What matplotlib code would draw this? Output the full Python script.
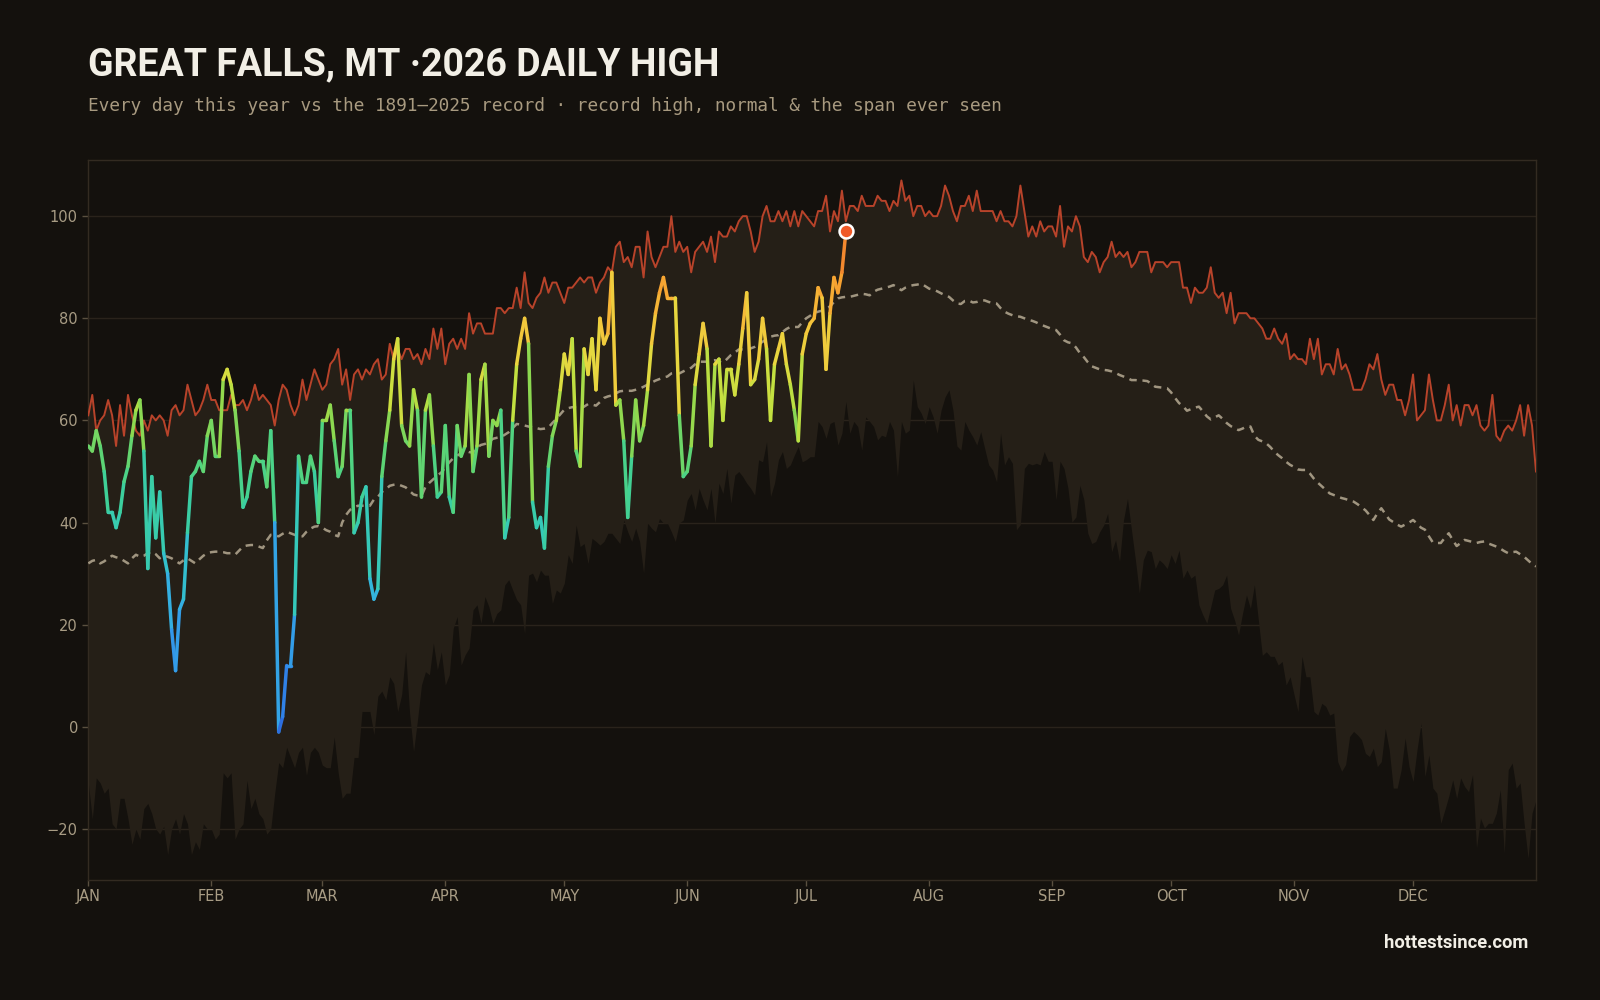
import numpy as np
import matplotlib
matplotlib.use("Agg")
import matplotlib.pyplot as plt
from matplotlib.collections import LineCollection
from matplotlib.colors import LinearSegmentedColormap, Normalize

# ---- data (deg F), day 0 = Jan 1 ----
record_high = [
    61, 65, 58, 60, 61, 64, 61, 55, 63, 57,
    65, 61, 58, 57, 60, 58, 61, 60, 61, 60,
    57, 62, 63, 61, 62, 67, 64, 61, 62, 64,
    67, 64, 64, 62, 62, 62, 65, 63, 63, 64,
    62, 64, 67, 64, 65, 64, 63, 59, 64, 67,
    66, 63, 61, 63, 68, 64, 67, 70, 68, 66,
    67, 71, 72, 74, 67, 70, 64, 69, 70, 68,
    70, 69, 71, 72, 68, 69, 75, 72, 74, 72,
    74, 74, 72, 73, 71, 74, 72, 78, 74, 78,
    71, 75, 76, 74, 76, 74, 81, 77, 79, 79,
    77, 77, 77, 82, 82, 81, 82, 82, 86, 82,
    89, 83, 82, 84, 85, 88, 85, 87, 87, 85,
    83, 86, 86, 87, 88, 87, 88, 88, 85, 87,
    88, 90, 89, 94, 95, 91, 92, 90, 94, 94,
    88, 97, 92, 90, 92, 94, 94, 100, 93, 95,
    93, 94, 89, 93, 94, 95, 93, 96, 91, 97,
    96, 96, 98, 97, 99, 100, 100, 97, 93, 95,
    100, 102, 99, 99, 101, 99, 101, 98, 101, 98,
    101, 100, 99, 98, 101, 101, 104, 97, 101, 99,
    105, 99, 102, 102, 101, 104, 102, 102, 102, 104,
    103, 103, 101, 103, 102, 107, 103, 104, 100, 102,
    102, 100, 101, 100, 100, 102, 106, 104, 101, 99,
    102, 102, 104, 101, 105, 101, 101, 101, 101, 99,
    101, 99, 99, 98, 100, 106, 101, 96, 98, 96,
    99, 97, 98, 98, 96, 102, 94, 98, 97, 100,
    98, 92, 91, 93, 92, 89, 91, 92, 95, 92,
    93, 92, 93, 90, 91, 93, 93, 93, 89, 91,
    91, 91, 90, 91, 91, 91, 86, 86, 83, 86,
    85, 85, 86, 90, 85, 84, 85, 81, 85, 79,
    81, 81, 81, 80, 80, 79, 78, 76, 76, 78,
    76, 75, 77, 72, 73, 72, 72, 71, 76, 72,
    76, 69, 71, 71, 69, 74, 70, 71, 69, 66,
    66, 66, 68, 71, 70, 73, 68, 65, 67, 67,
    64, 64, 61, 64, 69, 60, 61, 62, 69, 64,
    60, 60, 63, 67, 60, 63, 59, 63, 63, 61,
    63, 59, 58, 59, 65, 57, 56, 58, 59, 58,
    60, 63, 57, 63, 59, 50,
]

normal_high = [
    32, 32.5, 32.7, 32, 32.4, 33, 33.5, 33.2, 33, 32.5,
    32, 33, 33.7, 33.3, 33.5, 34, 34.3, 33.8, 33, 33.5,
    33.3, 33, 32.5, 32, 32.6, 33, 32.5, 32, 32.8, 33.5,
    34, 34.2, 34.3, 34.3, 34.2, 34, 34, 33.7, 34.5, 35.3,
    35.5, 35.6, 35.6, 35.3, 35, 36.5, 37.6, 37.5, 37.3, 37.8,
    38.2, 37.9, 37.6, 37.4, 37.3, 38.2, 38.8, 39.2, 39.3, 39,
    38.5, 38.2, 37.6, 37.3, 40, 41.5, 42.5, 43, 43.3, 43.3,
    43.3, 43.3, 44.5, 45, 46, 46.5, 47.2, 47.4, 47.5, 47.2,
    46.9, 46.2, 45.5, 45.3, 45.2, 47, 47.8, 48.5, 49.2, 49.8,
    50.8, 51.8, 52.6, 53.1, 53.6, 54.1, 53.8, 53.7, 54.7, 55.2,
    55.4, 55.8, 56.4, 56.6, 56.7, 57.2, 57.7, 58.5, 59.3, 59.2,
    59, 58.8, 58.6, 58.5, 58.3, 58.4, 58.6, 59.5, 60.3, 61.2,
    62.1, 62.4, 62.6, 62.5, 62.3, 62.7, 63.2, 63.1, 62.9, 63.6,
    64.4, 64.7, 64.9, 65.3, 65.7, 65.8, 65.8, 65.8, 66, 66.2,
    66.6, 67, 67.4, 67.8, 68.1, 68.4, 68.6, 69.2, 69.3, 69.2,
    69.6, 70, 70.3, 71, 71.5, 71.5, 71.5, 71.7, 71.8, 71.5,
    71.3, 72, 72.8, 73.3, 73.9, 73.9, 73.8, 74.1, 74.4, 74.9,
    75.4, 75.9, 76.4, 76.6, 76.7, 77.3, 77.9, 78.3, 78.3, 78.3,
    79.2, 80, 80.5, 81, 81.3, 81.5, 82, 82.3, 83.2, 83.9,
    84.1, 84.2, 84.2, 84.4, 84.6, 84.8, 84.7, 84.5, 85.2, 85.6,
    85.8, 86, 86.2, 86.5, 86, 85.5, 86, 86.3, 86.5, 86.6,
    86.8, 86.3, 85.8, 85.6, 85.3, 84.9, 84.5, 84.2, 83.5, 82.9,
    82.8, 83.4, 83.5, 83.1, 83.2, 83.5, 83.5, 83.2, 83, 82.9,
    82, 81.3, 80.9, 80.6, 80.4, 80.3, 80, 79.7, 79.5, 79.2,
    78.8, 78.5, 78.2, 77.9, 77.7, 76.8, 75.7, 75.3, 75.1, 74.3,
    73.2, 72.4, 71.4, 70.6, 70.3, 70, 69.9, 69.8, 69.6, 69.3,
    68.9, 68.6, 68.3, 67.9, 67.9, 67.8, 67.8, 67.7, 67.2, 66.6,
    66.5, 66.4, 66.3, 65.5, 64.4, 63.4, 62.8, 61.9, 62.2, 62.5,
    62.7, 61.8, 60.8, 60.2, 60.6, 61, 60.3, 59.5, 58.9, 58.5,
    58.1, 58.4, 58.8, 58.8, 57, 56.2, 55.9, 55.5, 54.8, 53.9,
    53.2, 52.6, 51.9, 51.3, 50.9, 50.4, 50.3, 50.3, 49.6, 48.6,
    47.8, 47.1, 46.4, 45.7, 45.4, 45.1, 44.8, 44.6, 44.3, 44.1,
    43.6, 43, 42.4, 41.5, 40.5, 41.8, 42.8, 41.7, 40.6, 40.1,
    39.6, 39.2, 39.6, 40, 40.5, 39.8, 39, 38.6, 37.3, 36.1,
    36, 36, 37, 37.9, 36.6, 35.4, 36, 36.6, 36.4, 36.2,
    36, 36.2, 36.3, 35.9, 35.6, 35.3, 34.9, 34.4, 34, 34.2,
    34.3, 33.8, 33.3, 32.6, 31.9, 31.4,
]

record_low_high = [
    -11, -18, -10, -11, -13, -12, -19, -20, -14, -14,
    -18, -23, -20, -22, -16, -15, -17, -20, -21, -19.5,
    -25, -20, -18, -21, -17, -19, -25, -22.5, -24, -19,
    -20, -20, -22, -21, -9, -10, -9, -22, -20, -19,
    -10.5, -16, -14, -17, -18, -21, -20, -13, -7, -8,
    -4, -6, -8, -5, -4, -9.5, -5, -4, -5, -7.5,
    -8, -8, -2, -9, -14, -13, -13, -6, -6, 3,
    3, 3, -1.5, 6, 7, 5.3, 9.8, 8.5, 3, 6.3,
    14.7, 2.7, -4.8, 1.4, 8.2, 10.8, 10.2, 16.4, 11.2, 14.7,
    8.2, 10.2, 19.3, 21.6, 12.1, 14.1, 15.4, 22.9, 23.9, 20.3,
    25.5, 23.5, 20.3, 22.2, 22.9, 27.8, 28.8, 26.8, 24.9, 23.9,
    18.3, 29.7, 30.1, 28.4, 30.7, 29.7, 29.7, 24.2, 26.8, 26.2,
    28.1, 33.7, 32, 39.5, 35.3, 35.9, 32, 36.9, 36.3, 35.6,
    36.3, 37.9, 37.9, 36.9, 35.9, 40.5, 38.2, 36.3, 38.9, 36.3,
    30.1, 39.9, 38.9, 38.2, 40.8, 39.9, 39.9, 38.2, 36.3, 39.9,
    40.5, 44.4, 45.7, 42.5, 46.7, 44.4, 42.5, 46.7, 39.9, 47.7,
    45.7, 50.6, 43.8, 49.3, 50, 49, 47.7, 46.7, 45.4, 52.3,
    51.9, 55.8, 45.1, 47.7, 52.3, 53.9, 50.6, 51.3, 53.2, 54.9,
    51.9, 52.3, 52.9, 52.9, 59.8, 58.8, 56.5, 59.4, 59.8, 55.2,
    57.5, 63.7, 57.5, 59.8, 58.8, 54.2, 60.7, 59.8, 58.8, 56.2,
    57.1, 56.8, 59.8, 58.1, 49, 59.8, 57.5, 58.1, 67.9, 62.7,
    61.4, 59.4, 62.7, 60.7, 57.5, 62, 64.6, 66, 62, 55,
    54.2, 59.8, 58.1, 56.8, 55.2, 57.8, 54.5, 51.3, 50.3, 48,
    57.5, 51.3, 52.9, 51.6, 38.6, 39.6, 50.6, 51.6, 51.3, 51.6,
    51.3, 53.9, 52, 52, 44.5, 52, 50.6, 46.7, 40.1, 41.1,
    47.3, 44.5, 37.9, 35.9, 36.3, 38.2, 39.5, 41.8, 34.3, 36.6,
    32.4, 40.5, 44.7, 38.6, 32.7, 26.2, 32.7, 34.6, 34.3, 31,
    32.7, 32, 31, 33.7, 32, 34.6, 29.1, 30.7, 29.1, 29.7,
    23.9, 21.9, 20.3, 23.5, 26.8, 27.1, 27.8, 29.7, 23.2, 20.9,
    18, 22.2, 25.8, 23.2, 27.8, 20.9, 14, 14.7, 13.8, 13.8,
    12.1, 12.8, 8.2, 9.8, 6.3, 3, 13.8, 9.8, 9.8, 3,
    2.3, 4.6, 4, 2.3, 2.7, -6.8, -8.7, -7.4, -1.9, -0.9,
    -1.6, -2.5, -5.2, -5.8, -4.2, -7.8, -6.8, -0.3, -4.5, -12,
    -12, -8.4, -2.2, -7.8, -10.7, -4.5, 0.7, -9.7, -5.5, -12,
    -13, -18.9, -16.3, -13.6, -10.4, -14, -10, -11.7, -12.7, -9.4,
    -23.7, -17.9, -19.8, -18.9, -18.9, -16.9, -12.3, -24.7, -8.4, -7.1,
    -12, -11, -18.9, -25.7, -16.9, -14.3,
]

high_2026 = [
    55, 54, 58, 55, 50, 42, 42, 39, 42, 48,
    51, 57, 62, 64, 54, 31, 49, 37, 46, 34,
    30, 19, 11, 23, 25, 38, 49, 50, 52, 50,
    57, 60, 53, 53, 68, 70, 67, 62, 54, 43,
    45, 50, 53, 52, 52, 47, 58, 40, -1, 2,
    12, 12, 22, 53, 48, 48, 53, 50, 40, 60,
    60, 63, 56, 49, 51, 62, 62, 38, 40, 45,
    47, 29, 25, 27, 49, 56, 62, 72, 76, 59,
    56, 55, 66, 62, 45, 62, 65, 55, 45, 46,
    59, 45, 42, 59, 53, 55, 69, 50, 55, 68,
    71, 53, 60, 59, 62, 37, 41, 60, 71, 76,
    80, 75, 44, 39, 41, 35, 51, 57, 60, 66,
    73, 69, 76, 54, 51, 74, 69, 76, 66, 80,
    75, 77, 89, 63, 64, 56, 41, 53, 64, 56,
    59, 66, 75, 81, 85, 88, 84, 84, 84, 61,
    49, 50, 55, 67, 73, 79, 74, 55, 71, 72,
    60, 70, 70, 65, 71, 78, 85, 67, 68, 72,
    80, 74, 60, 71, 74, 77, 71, 67, 62, 56,
    73, 77, 79, 80, 86, 84, 70, 81, 88, 85,
    89, 97,
]

month_starts = [0, 31, 59, 90, 120, 151, 181, 212, 243, 273, 304, 334]
month_labels = ["JAN", "FEB", "MAR", "APR", "MAY", "JUN",
                "JUL", "AUG", "SEP", "OCT", "NOV", "DEC"]
y_ticks = [-20, 0, 20, 40, 60, 80, 100]

# ---- style ----
BG = "#14110d"
BAND = "#251f17"
GRID = "#2a231b"
SPINE = "#332b21"
TICK = "#a89c84"
REC = "#b8432a"
NORMAL = "#a09580"

temp_cmap = LinearSegmentedColormap.from_list(
    "temps",
    [
        (0.00, "#2a5fd8"),
        (0.10, "#2f7de6"),
        (0.19, "#3398ea"),
        (0.29, "#34b2e0"),
        (0.38, "#33c6c4"),
        (0.48, "#3ccf9c"),
        (0.54, "#55d47a"),
        (0.62, "#8fd84e"),
        (0.67, "#c2e040"),
        (0.73, "#e6d840"),
        (0.81, "#f6c23a"),
        (0.88, "#f7a030"),
        (1.00, "#ee6a2c"),
    ],
)

days_all = np.arange(len(record_high))
days_obs = np.arange(len(high_2026))
rec_hi = np.array(record_high, dtype=float)
rec_lo = np.array(record_low_high, dtype=float)
normal = np.array(normal_high, dtype=float)
obs = np.array(high_2026, dtype=float)

fig = plt.figure(figsize=(16, 10), dpi=100, facecolor=BG)
ax = fig.add_axes([0.0552, 0.12, 0.9048, 0.72])
ax.set_facecolor(BG)

ax.fill_between(days_all, rec_lo, rec_hi, color=BAND, linewidth=0, zorder=1)
ax.plot(days_all, rec_hi, color=REC, lw=1.4, zorder=3)
ax.plot(days_all, normal, color=NORMAL, lw=1.8, dashes=(3, 2.3), zorder=3)

pts = np.column_stack([days_obs, obs])
segs = np.stack([pts[:-1], pts[1:]], axis=1)
lc = LineCollection(segs, cmap=temp_cmap, norm=Normalize(-5, 100),
                    linewidths=2.5, capstyle="round", joinstyle="round", zorder=4)
lc.set_array((obs[:-1] + obs[1:]) / 2)
ax.add_collection(lc)

ax.plot(days_obs[-1], obs[-1], "o", ms=10, mfc="#f05a28", mec="white",
        mew=1.8, zorder=5)

ax.set_xlim(0, 365)
ax.set_ylim(-30, 111)
ax.set_xticks(month_starts)
ax.set_xticklabels(month_labels)
ax.set_yticks(y_ticks)
ax.yaxis.grid(True, color=GRID, lw=1)
ax.set_axisbelow(True)
ax.tick_params(colors="#5a5040", labelcolor=TICK, labelsize=10.5, length=4, width=1)
ax.tick_params(axis="x", pad=2.5)
for s in ax.spines.values():
    s.set_color(SPINE)
    s.set_linewidth(1)

fig.text(0.055, 0.925, "GREAT FALLS, MT \u00b72026 DAILY HIGH",
         fontsize=27, fontweight="bold", family="Roboto", color="#f2efe6")
fig.text(0.055, 0.889,
         "Every day this year vs the 1891\u20132025 record \u00b7 record high, normal & the span ever seen",
         fontsize=12.8, family="DejaVu Sans Mono", color="#a89a80")
fig.text(0.955, 0.052, "hottestsince.com", ha="right", fontsize=13.2,
         fontweight="bold", family="Roboto", color="#f2efe6")

fig.savefig("out.png", dpi=100, facecolor=BG)
